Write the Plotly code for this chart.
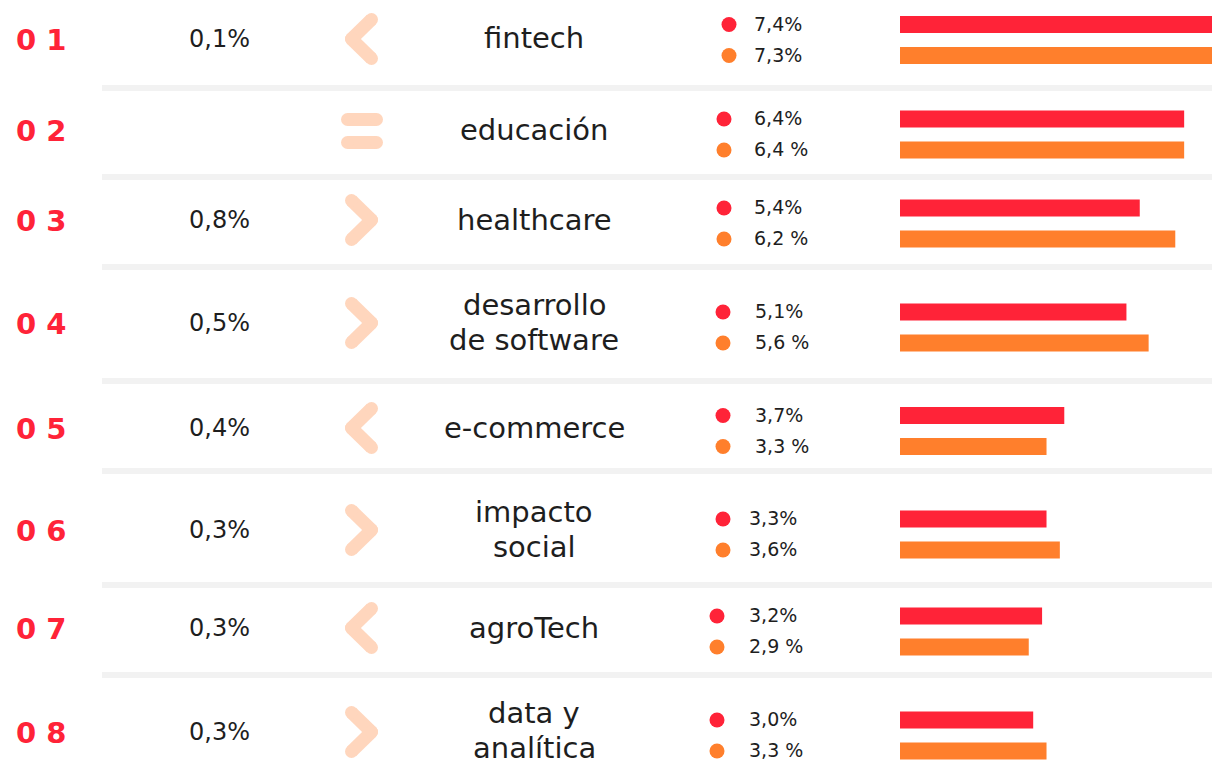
import plotly.graph_objects as go

# --- DATA ---
ranks = ["0 1", "0 2", "0 3", "0 4", "0 5", "0 6", "0 7", "0 8"]
categories = ["fintech", "educación", "healthcare", "desarrollo<br>de software",
              "e-commerce", "impacto<br>social", "agroTech", "data y<br>analítica"]
change_labels = ["0,1%", "", "0,8%", "0,5%", "0,4%", "0,3%", "0,3%", "0,3%"]
trend = ["down", "same", "up", "up", "down", "up", "down", "up"]
red_values = [7.4, 6.4, 5.4, 5.1, 3.7, 3.3, 3.2, 3.0]
orange_values = [7.3, 6.4, 6.2, 5.6, 3.3, 3.6, 2.9, 3.3]
red_labels = ["7,4%", "6,4%", "5,4%", "5,1%", "3,7%", "3,3%", "3,2%", "3,0%"]
orange_labels = ["7,3%", "6,4 %", "6,2 %", "5,6 %", "3,3 %", "3,6%", "2,9 %", "3,3 %"]

# --- LAYOUT (screen pixels) ---
W, H = 1220, 761
PAGE_MARGIN = 8  # default body margin of the html page
RED = "#ff2338"
ORANGE = "#ff7f2c"
PEACH = "#ffd6bd"
SEP = "#f2f2f2"
TXT = "#1e1e1e"
FONT = "DejaVu Sans"

row_y = [39, 130, 220, 323, 428, 530, 628, 732]
label_y = [38, 130, 220, 322, 428, 529, 628, 730]
LINE_GAP = 35
bar_mid = [40, 134.5, 223.5, 327.5, 431, 534.5, 631.5, 735.5]
sep_y = [88, 177, 267, 381, 471, 585, 675]
dot_x = [729, 724, 724, 723, 723, 723, 717, 717]
val_x = [752, 752, 752, 753, 753, 747, 747, 747]
BAR_X0 = 900
PX_PER_UNIT = 44.4
HALF = 15.5

fig_w, fig_h = W - PAGE_MARGIN, H - PAGE_MARGIN

fig = go.Figure()

red_y = [m - HALF for m in bar_mid]
orange_y = [m + HALF for m in bar_mid]

fig.add_trace(go.Bar(x=red_values, y=red_y, orientation="h", width=17,
                     marker=dict(color=RED, line=dict(width=0)),
                     xaxis="x", yaxis="y", hoverinfo="skip"))
fig.add_trace(go.Bar(x=orange_values, y=orange_y, orientation="h", width=17,
                     marker=dict(color=ORANGE, line=dict(width=0)),
                     xaxis="x", yaxis="y", hoverinfo="skip"))

# legend dots
fig.add_trace(go.Scatter(x=dot_x, y=red_y, mode="markers",
                         marker=dict(size=15, color=RED),
                         xaxis="x2", yaxis="y", hoverinfo="skip"))
fig.add_trace(go.Scatter(x=dot_x, y=orange_y, mode="markers",
                         marker=dict(size=15, color=ORANGE),
                         xaxis="x2", yaxis="y", hoverinfo="skip"))

# trend icons
SW = 13
for t, cy in zip(trend, row_y):
    if t == "same":
        xs, ys = [], []
        for dy in (-10.5, 12.5):
            xs += [347.5, 376.5, None]
            ys += [cy + dy, cy + dy, None]
    else:
        tip, ends = (351.5, 371.5) if t == "down" else (371.5, 351.5)
        xs = [ends, tip, None, tip, ends]
        ys = [cy - 19.5, cy, None, cy, cy + 19.5]
    fig.add_trace(go.Scatter(x=xs, y=ys, mode="lines+markers",
                             line=dict(color=PEACH, width=SW),
                             marker=dict(size=SW, color=PEACH),
                             xaxis="x2", yaxis="y", hoverinfo="skip"))

shapes = []
for y in sep_y:
    shapes.append(dict(type="rect", xref="x2", yref="y", x0=102, x1=W,
                       y0=y - 3, y1=y + 3, fillcolor=SEP, line=dict(width=0),
                       layer="below"))

annotations = []
for i in range(len(ranks)):
    annotations.append(dict(x=68, y=row_y[i] + 1, xref="x2", yref="y", text=ranks[i],
                            xanchor="right", yanchor="middle", showarrow=False,
                            font=dict(family=FONT, size=29, color=RED, weight="bold")))
    if change_labels[i]:
        annotations.append(dict(x=252, y=row_y[i], xref="x2", yref="y",
                                text=change_labels[i], xanchor="right",
                                yanchor="middle", showarrow=False,
                                font=dict(family=FONT, size=24, color=TXT)))
    lines = categories[i].split("<br>")
    for k, line in enumerate(lines):
        ly = label_y[i] + (k - (len(lines) - 1) / 2) * LINE_GAP
        annotations.append(dict(x=534, y=ly, xref="x2", yref="y", text=line,
                                xanchor="center", yanchor="middle", showarrow=False,
                                font=dict(family=FONT, size=29, color=TXT)))
    annotations.append(dict(x=val_x[i], y=red_y[i] - 1, xref="x2", yref="y",
                            text=red_labels[i], xanchor="left", yanchor="middle",
                            showarrow=False, font=dict(family=FONT, size=19, color=TXT)))
    annotations.append(dict(x=val_x[i], y=orange_y[i] - 1, xref="x2", yref="y",
                            text=orange_labels[i], xanchor="left", yanchor="middle",
                            showarrow=False, font=dict(family=FONT, size=19, color=TXT)))

fig.update_layout(
    width=fig_w, height=fig_h,
    margin=dict(l=0, r=0, t=0, b=0),
    paper_bgcolor="white", plot_bgcolor="rgba(0,0,0,0)",
    showlegend=False,
    barmode="overlay",
    xaxis=dict(domain=[(BAR_X0 - PAGE_MARGIN) / fig_w, 1],
               range=[0, (W - BAR_X0) / PX_PER_UNIT],
               visible=False, fixedrange=True, anchor="y"),
    xaxis2=dict(domain=[0, 1], range=[PAGE_MARGIN, W], visible=False,
                fixedrange=True, anchor="y"),
    yaxis=dict(domain=[0, 1], range=[H, PAGE_MARGIN], visible=False, fixedrange=True),
    shapes=shapes,
    annotations=annotations,
)

fig.write_html("out.html", config={"displayModeBar": False})
